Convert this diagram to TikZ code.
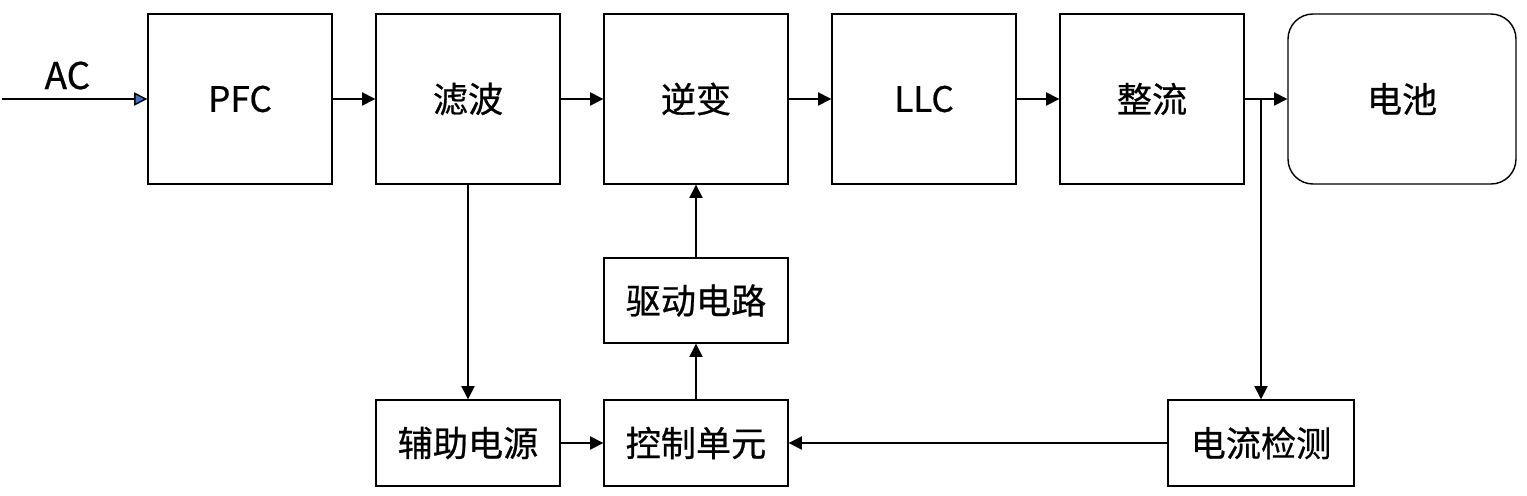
\documentclass[tikz,border=0pt]{standalone}
\usepackage{fontspec}
\setmainfont{Noto Sans CJK SC}
\newfontfamily\medfont{Noto Sans CJK SC}[FakeBold=0.6]
\usetikzlibrary{arrows.meta}
\definecolor{acblue}{HTML}{4472C4}

\begin{document}
\begin{tikzpicture}[
        line width=0.8pt,
        font=\fontsize{20}{24}\medfont,
        blk/.style={draw, inner sep=0pt, minimum width=3.68cm, minimum height=3.4cm},
        sblk/.style={draw, inner sep=0pt, minimum width=3.68cm, minimum height=1.72cm},
        flow/.style={-{Triangle[length=7.5pt,width=7.5pt]}}
    ]
        \useasboundingbox (0, 0) rectangle (30.54, -9.9);

        % main power path
        \node[blk] (pfc) at (4.8, -1.98) {PFC};
        \node[blk] (filter) at (9.36, -1.98) {滤波};
        \node[blk] (inverter) at (13.92, -1.98) {逆变};
        \node[blk] (llc) at (18.48, -1.98) {LLC};
        \node[blk] (rect) at (23.04, -1.98) {整流};
        \node[blk, rounded corners=0.5cm, minimum width=4.56cm] (battery) at (28.04, -1.98) {电池};

        % control side
        \node[sblk, minimum height=1.7cm] (driver) at (13.92, -6.01) {驱动电路};
        \node[sblk] (aux) at (9.36, -8.86) {辅助电源};
        \node[sblk] (ctrl) at (13.92, -8.86) {控制单元};
        \node[sblk, minimum width=3.72cm] (sense) at (25.22, -8.86) {电流检测};

        \coordinate (acin) at (0.04, -1.98);
        \coordinate (tap) at (25.22, -1.98);

        \draw[-{Triangle[length=7.5pt,width=7.5pt,fill=acblue]}] (acin) -- (pfc.west)
            node[above, pos=0.45, inner sep=5pt, font=\fontsize{21}{24}\medfont]{AC};
        \draw[flow] (pfc) -- (filter);
        \draw[flow] (filter) -- (inverter);
        \draw[flow] (inverter) -- (llc);
        \draw[flow] (llc) -- (rect);
        \draw[flow] (rect) -- (battery);

        \draw[flow] (filter) -- (aux);
        \draw[flow] (aux) -- (ctrl);
        \draw[flow] (ctrl) -- (driver);
        \draw[flow] (driver) -- (inverter);
        \draw[flow] (tap) -- (sense);
        \draw[flow] (sense) -- (ctrl);
    \end{tikzpicture}
\end{document}
